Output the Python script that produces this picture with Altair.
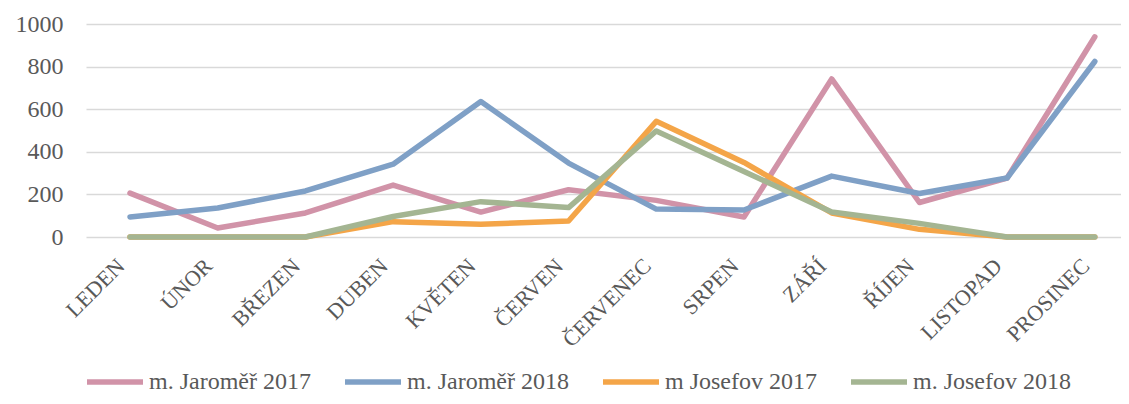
import altair as alt
import pandas as pd

months = ["LEDEN", "ÚNOR", "BŘEZEN", "DUBEN", "KVĚTEN", "ČERVEN",
          "ČERVENEC", "SRPEN", "ZÁŘÍ", "ŘÍJEN", "LISTOPAD", "PROSINEC"]
series = ["m. Jaroměř 2017", "m. Jaroměř 2018", "m Josefov 2017", "m. Josefov 2018"]
colors = ["#D193A8", "#7FA0C6", "#F4A548", "#A4B592"]

jaromer_2017 = [206, 42, 113, 244, 117, 222, 172, 94, 742, 162, 277, 940]
jaromer_2018 = [94, 136, 216, 342, 636, 347, 131, 127, 286, 204, 277, 824]
josefov_2017 = [0, 0, 0, 72, 60, 75, 543, 350, 113, 36, 0, 0]
josefov_2018 = [0, 0, 0, 96, 166, 138, 498, 308, 117, 64, 0, 0]

rows = []
for s, vals in zip(series, [jaromer_2017, jaromer_2018, josefov_2017, josefov_2018]):
    for m, v in zip(months, vals):
        rows.append({"měsíc": m, "série": s, "hodnota": v, "poradi": series.index(s)})
df = pd.DataFrame(rows)

FONT = "Liberation Serif"
TXT = "#595959"
BP = 0.627

chart = alt.Chart(df).mark_line(strokeWidth=5.5, strokeJoin="round", strokeCap="round").encode(
    x=alt.X("měsíc:N", sort=months, title=None, bandPosition=BP,
            scale=alt.Scale(type="band", paddingInner=0.2, paddingOuter=0),
            axis=alt.Axis(labelAngle=-45, labelFontSize=22, labelFont=FONT, labelColor=TXT,
                          labelPadding=25, ticks=False, domain=False, grid=False,
                          bandPosition=BP, labelAlign="right", labelBaseline="middle")),
    y=alt.Y("hodnota:Q", title=None,
            scale=alt.Scale(domain=[0, 1000]),
            axis=alt.Axis(values=[0, 200, 400, 600, 800, 1000], format="d",
                          labelFontSize=24, labelFont=FONT,
                          labelColor=TXT, labelPadding=23, ticks=False, domain=False,
                          gridColor="#D9D9D9", gridWidth=1.5)),
    color=alt.Color("série:N", sort=series,
                    scale=alt.Scale(domain=series, range=colors),
                    legend=alt.Legend(title=None, orient="none", direction="horizontal",
                                      legendX=-2, legendY=327, columns=4, columnPadding=23,
                                      symbolType="stroke", symbolSize=3136, symbolStrokeWidth=5.5,
                                      labelFontSize=24, labelFont=FONT, labelColor=TXT,
                                      labelLimit=400, labelOffset=3)),
    order=alt.Order("poradi:Q"),
).properties(
    width=1035, height=213,
    autosize=alt.AutoSizeParams(type="none"),
    padding={"left": 78, "top": 16, "right": 0, "bottom": 159},
).configure_view(stroke=None)

chart.save("out.html", embed_options={"renderer": "svg", "actions": False})
